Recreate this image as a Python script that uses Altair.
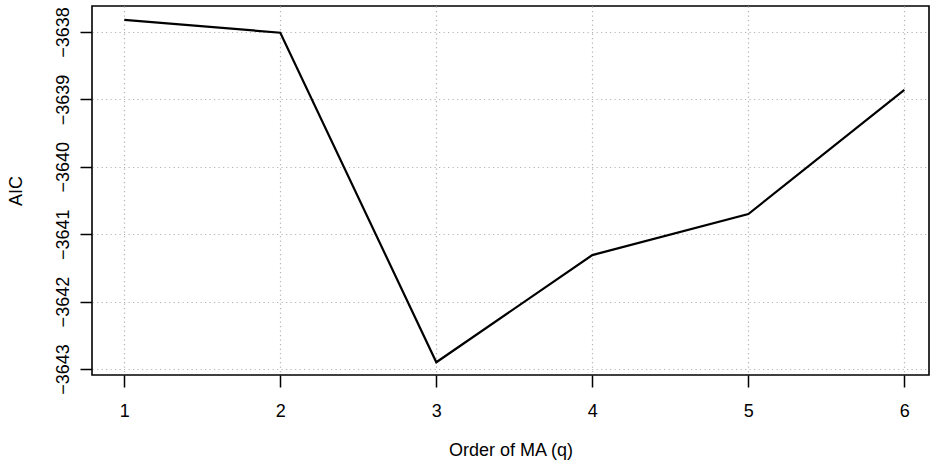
import altair as alt
import pandas as pd

order_q = [1, 2, 3, 4, 5, 6]
aic = [-3637.82, -3638.01, -3642.90, -3641.31, -3640.70, -3638.86]
x_ticks = [1, 2, 3, 4, 5, 6]
y_ticks = [-3643, -3642, -3641, -3640, -3639, -3638]

df = pd.DataFrame({"q": order_q, "aic": aic})

FONT = "Liberation Sans"

chart = alt.Chart(df).mark_line(color="black", strokeWidth=2.2, clip=True).encode(
    x=alt.X(
        "q:Q",
        scale=alt.Scale(domain=[0.793, 6.158], nice=False, zero=False),
        axis=alt.Axis(
            values=x_ticks,
            format="d",
            title="Order of MA (q)",
            titleY=80,
            titleBaseline="alphabetic",
            titleFontWeight="normal",
            titleFontSize=18,
            titleFont=FONT,
            titleColor="black",
            labelFont=FONT,
            labelFontSize=18,
            labelColor="black",
            labelBaseline="alphabetic",
            labelPadding=29,
            labelFlush=False,
            tickSize=12,
            tickColor="black",
            tickWidth=1.5,
            domain=False,
            grid=True,
            gridColor="#b4b4b4",
            gridDash=[1.2, 3.3],
            gridWidth=1.2,
        ),
    ),
    y=alt.Y(
        "aic:Q",
        scale=alt.Scale(domain=[-3643.089, -3637.614], nice=False, zero=False),
        axis=alt.Axis(
            values=y_ticks,
            format="d",
            title="AIC",
            titleX=-71,
            titleBaseline="alphabetic",
            titleAngle=270,
            titleFontWeight="normal",
            titleFontSize=18,
            titleFont=FONT,
            titleColor="black",
            labelFont=FONT,
            labelFontSize=18,
            labelColor="black",
            labelAngle=270,
            labelAlign="center",
            labelBaseline="alphabetic",
            labelPadding=12,
            labelFlush=False,
            labelOverlap=False,
            tickSize=12,
            tickColor="black",
            tickWidth=1.5,
            domain=False,
            grid=True,
            gridColor="#b4b4b4",
            gridDash=[1.2, 3.3],
            gridWidth=1.2,
        ),
    ),
).properties(
    width=837,
    height=369,
    padding={"left": 92, "top": 6, "right": 2, "bottom": 90},
    autosize="none",
    background="white",
).configure_view(
    stroke="black",
    strokeWidth=1.6,
)

chart.save("out.html", embed_options={"renderer": "svg", "actions": False})
